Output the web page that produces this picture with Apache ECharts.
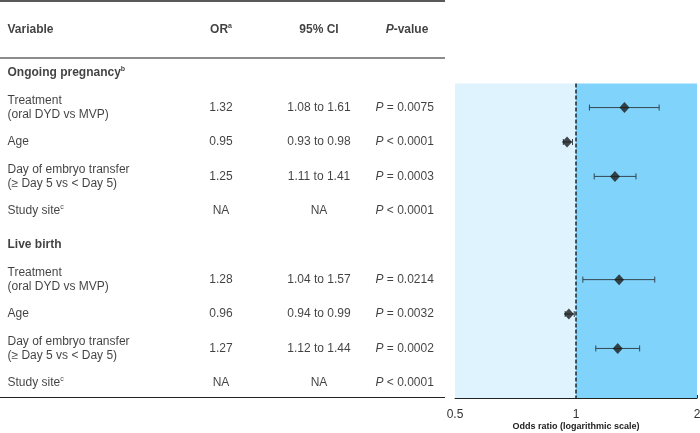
<!DOCTYPE html>
<html style="height: 100%">

<head>
    <meta charset="UTF-8">
    <title>Forest plot</title>
    <script src="https://cdn.jsdelivr.net/npm/echarts@6/dist/echarts.min.js"></script>
</head>

<body style="height: 100%; margin: 0; background: #fff">
    <div id="main" style="width: 700px; height: 433px;"></div>

    <script>
        // rows of the table (index = row number, top to bottom)
        var rowLabels = ['Ongoing pregnancy', 'Treatment\n(oral DYD vs MVP)', 'Age',
            'Day of embryo transfer\n(≥ Day 5 vs < Day 5)', 'Study site',
            'Live birth', 'Treatment\n(oral DYD vs MVP)', 'Age',
            'Day of embryo transfer\n(≥ Day 5 vs < Day 5)', 'Study site'];
        var rowNotes = ['b', '', '', '', 'c', '', '', '', '', 'c'];
        var sectionRows = [0, 5];
        var oddsRatio = [null, 1.32, 0.95, 1.25, null, null, 1.28, 0.96, 1.27, null];
        var ciLow = [null, 1.08, 0.93, 1.11, null, null, 1.04, 0.94, 1.12, null];
        var ciHigh = [null, 1.61, 0.98, 1.41, null, null, 1.57, 0.99, 1.44, null];
        var pValues = ['', '= 0.0075', '< 0.0001', '= 0.0003', '< 0.0001',
            '', '= 0.0214', '= 0.0032', '= 0.0002', '< 0.0001'];
        var xTicks = [0.5, 1, 1.5, 2];
        var xLabels = [0.5, 1, 2];

        var FONT = '"Liberation Sans", Arial, sans-serif';
        var TXT = '#111';
        var rich = {
            n: { fontSize: 12, lineHeight: 14, color: TXT, fontFamily: FONT },
            b: { fontSize: 12, lineHeight: 14, color: TXT, fontFamily: FONT, fontWeight: 'bold' },
            i: { fontSize: 12, lineHeight: 14, color: TXT, fontFamily: FONT, fontStyle: 'italic' },
            bi: { fontSize: 12, lineHeight: 14, color: TXT, fontFamily: FONT, fontStyle: 'italic', fontWeight: 'bold' },
            s: { fontSize: 7, lineHeight: 8, color: TXT, fontFamily: FONT, verticalAlign: 'top' },
            sb: { fontSize: 7, lineHeight: 8, color: TXT, fontFamily: FONT, fontWeight: 'bold', verticalAlign: 'top' }
        };

        // table column positions (x units of the table grid = px)
        var colVar = 7, colOR = 221, colCI = 319, colP = 375, colPHead = 407;
        var headerRow = -1.25;

        function log2(v) { return Math.log(v) / Math.LN2; }

        function isSection(i) { return sectionRows.indexOf(i) >= 0; }

        // build table cells
        var leftCells = [], centerCells = [];
        leftCells.push({ value: [colVar, headerRow], name: '{b|Variable}' });
        centerCells.push({ value: [colOR, headerRow], name: '{b|OR}{sb|a}' });
        centerCells.push({ value: [colCI, headerRow], name: '{b|95% CI}' });
        centerCells.push({ value: [colPHead, headerRow], name: '{bi|P}{b|-value}' });
        rowLabels.forEach(function (lab, i) {
            var st = isSection(i) ? 'b' : 'n';
            var txt = '{' + st + '|' + lab + '}' + (rowNotes[i] ? '{' + (isSection(i) ? 'sb' : 's') + '|' + rowNotes[i] + '}' : '');
            leftCells.push({ value: [colVar, i], name: txt });
            if (isSection(i)) return;
            var orTxt = oddsRatio[i] == null ? 'NA' : oddsRatio[i].toFixed(2);
            var ciTxt = ciLow[i] == null ? 'NA' : ciLow[i].toFixed(2) + ' to ' + ciHigh[i].toFixed(2);
            centerCells.push({ value: [colOR, i], name: '{n|' + orTxt + '}' });
            centerCells.push({ value: [colCI, i], name: '{n|' + ciTxt + '}' });
            leftCells.push({ value: [colP, i], name: '{i|P}{n| ' + pValues[i] + '}' });
        });

        // forest plot data (log2 space)
        var points = [], bars = [];
        oddsRatio.forEach(function (v, i) {
            if (v == null) return;
            points.push([log2(v), i]);
            bars.push([log2(ciLow[i]), log2(ciHigh[i]), i]);
        });

        var myChart = echarts.init(document.getElementById('main'));

        var option = {
            animation: false,
            grid: [
                { left: 455, right: 3, top: 83.5, bottom: 35, outerBoundsMode: 'none', containLabel: false },
                { left: 0, width: 445, top: 0, bottom: 35, outerBoundsMode: 'none', containLabel: false }
            ],
            xAxis: [
                {
                    type: 'value', gridIndex: 0, min: -1, max: 1,
                    axisLine: { show: true, lineStyle: { color: '#222', width: 1 } },
                    axisTick: {
                        show: true, inside: true, length: 3,
                        customValues: xTicks.map(log2),
                        lineStyle: { color: '#222' }
                    },
                    axisLabel: {
                        customValues: xLabels.map(log2),
                        formatter: function (v) { return String(+Math.pow(2, v).toFixed(2)); },
                        color: '#333', fontSize: 12, fontFamily: FONT, margin: 11
                    },
                    splitLine: { show: false },
                    name: 'Odds ratio (logarithmic scale)',
                    nameLocation: 'middle', nameGap: 24, nameMoveOverlap: false,
                    nameTextStyle: { fontSize: 9, fontWeight: 'bold', color: '#222', fontFamily: FONT }
                },
                { type: 'value', gridIndex: 1, min: 0, max: 445, show: false }
            ],
            yAxis: [
                { type: 'value', gridIndex: 0, min: 0.3, max: 9.44, inverse: true, show: false },
                { type: 'value', gridIndex: 1, min: -2.12, max: 9.44, inverse: true, show: false }
            ],
            series: [
                {
                    // shaded halves and reference line at OR = 1
                    type: 'line', xAxisIndex: 0, yAxisIndex: 0, data: [],
                    markArea: {
                        silent: true,
                        data: [
                            [{ xAxis: -1, itemStyle: { color: '#def3fd' } }, { xAxis: 0 }],
                            [{ xAxis: 0, itemStyle: { color: '#80d4fb' } }, { xAxis: 1 }]
                        ]
                    },
                    markLine: {
                        silent: true, symbol: 'none', label: { show: false },
                        lineStyle: { color: '#222', type: [4, 2], width: 1.5 },
                        data: [{ xAxis: 0 }]
                    }
                },
                {
                    type: 'custom', xAxisIndex: 0, yAxisIndex: 0, data: bars,
                    renderItem: function (params, api) {
                        var y = api.value(2);
                        var a = api.coord([api.value(0), y]);
                        var b = api.coord([api.value(1), y]);
                        var h = 3;
                        var style = { stroke: '#34454f', lineWidth: 1 };
                        return {
                            type: 'group', children: [
                                { type: 'line', shape: { x1: a[0], y1: a[1], x2: b[0], y2: b[1] }, style: style },
                                { type: 'line', shape: { x1: a[0], y1: a[1] - h, x2: a[0], y2: a[1] + h }, style: style },
                                { type: 'line', shape: { x1: b[0], y1: b[1] - h, x2: b[0], y2: b[1] + h }, style: style }
                            ]
                        };
                    },
                    z: 3
                },
                {
                    type: 'scatter', xAxisIndex: 0, yAxisIndex: 0, data: points,
                    symbol: 'diamond', symbolSize: [10, 11],
                    itemStyle: { color: '#1a1a1a' }, z: 4
                },
                {
                    // table: left aligned cells + rules
                    type: 'scatter', xAxisIndex: 1, yAxisIndex: 1, data: leftCells,
                    symbolSize: 1, itemStyle: { color: 'transparent' },
                    label: {
                        show: true, position: 'right', distance: 0,
                        formatter: function (p) { return p.name; }, rich: rich
                    },
                    markLine: {
                        silent: true, symbol: 'none', label: { show: false },
                        data: [
                            { yAxis: -2.09, lineStyle: { color: '#222', width: 1.5, type: 'solid' } },
                            { yAxis: -0.44, lineStyle: { color: '#666', width: 1.5, type: 'solid' } },
                            { yAxis: 9.43, lineStyle: { color: '#222', width: 1, type: 'solid' } }
                        ]
                    }
                },
                {
                    type: 'scatter', xAxisIndex: 1, yAxisIndex: 1, data: centerCells,
                    symbolSize: 1, itemStyle: { color: 'transparent' },
                    label: {
                        show: true, position: 'inside',
                        formatter: function (p) { return p.name; }, rich: rich
                    }
                }
            ]
        };

        myChart.setOption(option);
    </script>
</body>

</html>
